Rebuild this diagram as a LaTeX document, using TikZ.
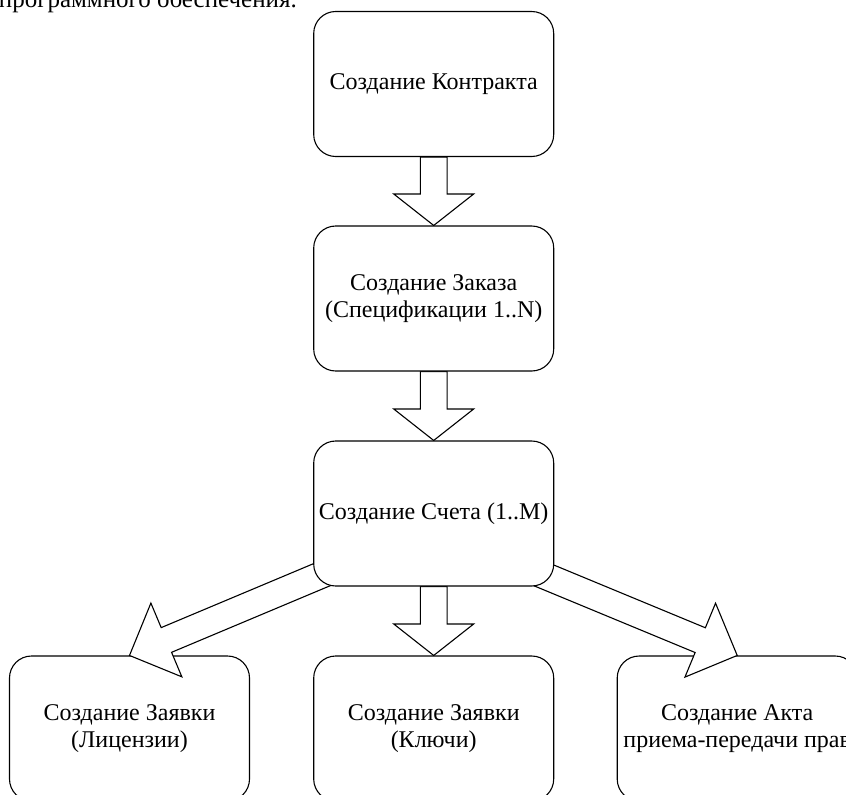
\documentclass[tikz,border=0pt]{standalone}
\usepackage{fontspec}
\setmainfont{Liberation Serif}
\usetikzlibrary{calc}
\pgfdeclarelayer{bg}
\pgfdeclarelayer{mid}
\pgfsetlayers{bg,mid,main}
\newcommand{\blockarrow}[3]{%
  \coordinate (ba-h) at ($(#2)!#3!(#1)$);
  \draw[barrow] ($(#1)!13.4bp!90:(#2)$) -- ($(ba-h)!13.4bp!-90:(#1)$) -- ($(ba-h)!40bp!-90:(#1)$) -- (#2) -- ($(ba-h)!40bp!90:(#1)$) -- ($(ba-h)!13.4bp!90:(#1)$) -- ($(#1)!13.4bp!-90:(#2)$) -- cycle;}
\begin{document}
\begin{tikzpicture}[x=1bp,y=-1bp,
  box/.style={draw, line width=1.1bp, rounded corners=22bp, fill=white,
    minimum width=240bp, minimum height=145bp, inner sep=0pt, align=center,
    font=\fontsize{24bp}{26.5bp}\selectfont},
  barrow/.style={draw, line width=1.1bp, fill=white, line join=miter},
  toptext/.style={anchor=base east, inner sep=0pt, font=\fontsize{25bp}{29bp}\selectfont}]
\useasboundingbox (0,0) rectangle (846,795);
\clip (0,0) rectangle (846,795);
\begin{pgfonlayer}{bg}
\fill[white] (0,0) rectangle (846,795);
\node[box] (b4) at (129.5,728.5) {Создание Заявки\\(Лицензии)};
\node[box] (b5) at (433.7,728.5) {Создание Заявки\\(Ключи)};
\node[box] (b6) at (737.2,728.5) {Создание Акта\\\makebox[200bp]{приема-передачи прав}};
\end{pgfonlayer}
\node[toptext] (top) at (297,7.7) {программного обеспечения.};
\node[box] (b1) at (433.7,84) {Создание Контракта};
\node[box] (b2) at (433.7,298.5) {Создание Заказа\\(Спецификации 1..N)};
\node[box] (b3) at (433.7,513.5) {Создание Счета (1..M)};
\coordinate (tl) at ($(b3.south west)+(28.3,-20.1)$);
\coordinate (tr) at ($(b3.south east)+(-29.3,-19)$);
\begin{pgfonlayer}{mid}
\blockarrow{b1.south}{b2.north}{31.5bp}
\blockarrow{b2.south}{b3.north}{31.5bp}
\blockarrow{b3.south}{b5.north}{31.5bp}
\blockarrow{tl}{b4.north}{40bp}
\blockarrow{tr}{b6.north}{40bp}
\end{pgfonlayer}
\end{tikzpicture}
\end{document}
